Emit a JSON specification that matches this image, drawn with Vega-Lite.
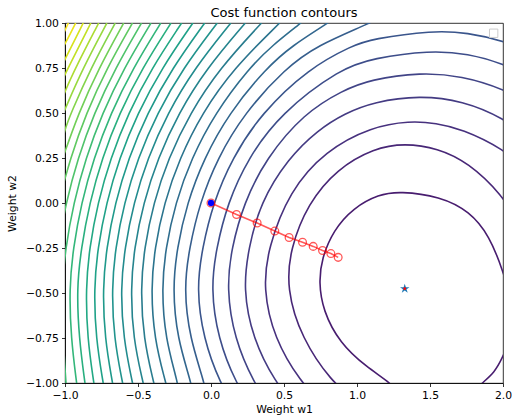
{
  "$schema": "https://vega.github.io/schema/vega-lite/v6.json",
  "width": 438,
  "height": 360,
  "autosize": {"type": "none"},
  "padding": {"left": 65, "top": 23, "right": 12, "bottom": 34},
  "title": {"text": "Cost function contours", "fontSize": 13, "font": "DejaVu Sans", "fontWeight": "normal", "color": "black", "offset": -3},
  "config": {
    "view": {"stroke": "black", "strokeWidth": 0.8},
    "axis": {"grid": false, "domainColor": "black", "domainWidth": 0.8, "tickColor": "black", "tickWidth": 0.8, "tickSize": 3.5, "labelColor": "black", "titleColor": "black", "labelFont": "DejaVu Sans", "titleFont": "DejaVu Sans", "labelFontSize": 10.8, "titleFontSize": 10.8, "titleFontWeight": "normal", "labelFlush": false, "labelOverlap": false}
  },
  "datasets": {
    "contours": [
      {"k":1,"s":1,"w1":2.06,"w2":-0.541},{"k":1,"s":1,"w1":1.998,"w2":-0.374},{"k":1,"s":1,"w1":1.909,"w2":-0.185},{"k":1,"s":1,"w1":1.772,"w2":-0.046},{"k":1,"s":1,"w1":1.567,"w2":0.037},{"k":1,"s":1,"w1":1.293,"w2":0.065},{"k":1,"s":1,"w1":1.149,"w2":0.048},{"k":1,"s":1,"w1":0.975,"w2":-0.027},{"k":1,"s":1,"w1":0.839,"w2":-0.151},{"k":1,"s":1,"w1":0.758,"w2":-0.309},{"k":1,"s":1,"w1":0.739,"w2":-0.441},{"k":1,"s":1,"w1":0.766,"w2":-0.596},{"k":1,"s":1,"w1":0.882,"w2":-0.779},{"k":1,"s":1,"w1":1.067,"w2":-0.913},{"k":1,"s":1,"w1":1.236,"w2":-1.002},{"k":1,"s":1,"w1":1.293,"w2":-1.068},
      {"k":1,"s":0,"w1":2.046,"w2":-0.763},{"k":1,"s":0,"w1":1.998,"w2":-0.857},{"k":1,"s":0,"w1":1.943,"w2":-0.941},{"k":1,"s":0,"w1":1.854,"w2":-1.002},{"k":1,"s":0,"w1":1.772,"w2":-1.068},
      {"k":2,"s":2,"w1":2.114,"w2":-0.124},{"k":2,"s":2,"w1":1.998,"w2":0.043},{"k":2,"s":2,"w1":1.761,"w2":0.226},{"k":2,"s":2,"w1":1.552,"w2":0.305},{"k":2,"s":2,"w1":1.327,"w2":0.332},{"k":2,"s":2,"w1":1.117,"w2":0.305},{"k":2,"s":2,"w1":0.862,"w2":0.189},{"k":2,"s":2,"w1":0.663,"w2":-0.004},{"k":2,"s":2,"w1":0.543,"w2":-0.253},{"k":2,"s":2,"w1":0.517,"w2":-0.474},{"k":2,"s":2,"w1":0.619,"w2":-0.752},{"k":2,"s":2,"w1":0.836,"w2":-1.002},{"k":2,"s":2,"w1":0.947,"w2":-1.061},
      {"k":3,"s":3,"w1":2.219,"w2":0.153},{"k":3,"s":3,"w1":1.998,"w2":0.304},{"k":3,"s":3,"w1":1.718,"w2":0.411},{"k":3,"s":3,"w1":1.542,"w2":0.444},{"k":3,"s":3,"w1":1.361,"w2":0.456},{"k":3,"s":3,"w1":1.101,"w2":0.424},{"k":3,"s":3,"w1":0.784,"w2":0.291},{"k":3,"s":3,"w1":0.537,"w2":0.066},{"k":3,"s":3,"w1":0.39,"w2":-0.252},{"k":3,"s":3,"w1":0.357,"w2":-0.474},{"k":3,"s":3,"w1":0.431,"w2":-0.752},{"k":3,"s":3,"w1":0.62,"w2":-1.002},{"k":3,"s":3,"w1":0.742,"w2":-1.092},
      {"k":4,"s":4,"w1":2.244,"w2":0.327},{"k":4,"s":4,"w1":1.998,"w2":0.476},{"k":4,"s":4,"w1":1.724,"w2":0.567},{"k":4,"s":4,"w1":1.43,"w2":0.598},{"k":4,"s":4,"w1":1.116,"w2":0.562},{"k":4,"s":4,"w1":0.915,"w2":0.498},{"k":4,"s":4,"w1":0.734,"w2":0.407},{"k":4,"s":4,"w1":0.528,"w2":0.248},{"k":4,"s":4,"w1":0.337,"w2":0.0},{"k":4,"s":4,"w1":0.257,"w2":-0.252},{"k":4,"s":4,"w1":0.22,"w2":-0.474},{"k":4,"s":4,"w1":0.284,"w2":-0.752},{"k":4,"s":4,"w1":0.444,"w2":-1.002},{"k":4,"s":4,"w1":0.574,"w2":-1.12},
      {"k":5,"s":5,"w1":2.285,"w2":0.512},{"k":5,"s":5,"w1":1.998,"w2":0.637},{"k":5,"s":5,"w1":1.719,"w2":0.705},{"k":5,"s":5,"w1":1.437,"w2":0.726},{"k":5,"s":5,"w1":1.092,"w2":0.686},{"k":5,"s":5,"w1":0.902,"w2":0.626},{"k":5,"s":5,"w1":0.637,"w2":0.498},{"k":5,"s":5,"w1":0.377,"w2":0.248},{"k":5,"s":5,"w1":0.225,"w2":0.0},{"k":5,"s":5,"w1":0.14,"w2":-0.252},{"k":5,"s":5,"w1":0.107,"w2":-0.474},{"k":5,"s":5,"w1":0.159,"w2":-0.752},{"k":5,"s":5,"w1":0.294,"w2":-1.002},{"k":5,"s":5,"w1":0.417,"w2":-1.141},
      {"k":6,"s":6,"w1":2.26,"w2":0.673},{"k":6,"s":6,"w1":1.998,"w2":0.776},{"k":6,"s":6,"w1":1.763,"w2":0.829},{"k":6,"s":6,"w1":1.498,"w2":0.848},{"k":6,"s":6,"w1":1.11,"w2":0.804},{"k":6,"s":6,"w1":0.889,"w2":0.748},{"k":6,"s":6,"w1":0.476,"w2":0.498},{"k":6,"s":6,"w1":0.253,"w2":0.248},{"k":6,"s":6,"w1":0.114,"w2":0.0},{"k":6,"s":6,"w1":0.036,"w2":-0.252},{"k":6,"s":6,"w1":-0.001,"w2":-0.474},{"k":6,"s":6,"w1":0.047,"w2":-0.752},{"k":6,"s":6,"w1":0.17,"w2":-1.002},{"k":6,"s":6,"w1":0.298,"w2":-1.157},
      {"k":7,"s":7,"w1":2.33,"w2":0.794},{"k":7,"s":7,"w1":1.998,"w2":0.904},{"k":7,"s":7,"w1":1.759,"w2":0.946},{"k":7,"s":7,"w1":1.519,"w2":0.959},{"k":7,"s":7,"w1":1.1,"w2":0.911},{"k":7,"s":7,"w1":0.971,"w2":0.876},{"k":7,"s":7,"w1":0.669,"w2":0.748},{"k":7,"s":7,"w1":0.344,"w2":0.498},{"k":7,"s":7,"w1":0.144,"w2":0.248},{"k":7,"s":7,"w1":0.015,"w2":0.0},{"k":7,"s":7,"w1":-0.06,"w2":-0.252},{"k":7,"s":7,"w1":-0.099,"w2":-0.474},{"k":7,"s":7,"w1":-0.053,"w2":-0.752},{"k":7,"s":7,"w1":0.061,"w2":-1.002},{"k":7,"s":7,"w1":0.193,"w2":-1.177},
      {"k":8,"s":8,"w1":1.259,"w2":1.07},{"k":8,"s":8,"w1":1.088,"w2":0.998},{"k":8,"s":8,"w1":0.728,"w2":0.876},{"k":8,"s":8,"w1":0.509,"w2":0.748},{"k":8,"s":8,"w1":0.227,"w2":0.498},{"k":8,"s":8,"w1":0.044,"w2":0.248},{"k":8,"s":8,"w1":-0.077,"w2":0.0},{"k":8,"s":8,"w1":-0.149,"w2":-0.252},{"k":8,"s":8,"w1":-0.186,"w2":-0.474},{"k":8,"s":8,"w1":-0.146,"w2":-0.752},{"k":8,"s":8,"w1":-0.042,"w2":-1.002},{"k":8,"s":8,"w1":-0.028,"w2":-1.096},
      {"k":9,"s":9,"w1":0.917,"w2":1.07},{"k":9,"s":9,"w1":0.8,"w2":0.998},{"k":9,"s":9,"w1":0.558,"w2":0.876},{"k":9,"s":9,"w1":0.376,"w2":0.748},{"k":9,"s":9,"w1":0.123,"w2":0.498},{"k":9,"s":9,"w1":-0.048,"w2":0.248},{"k":9,"s":9,"w1":-0.164,"w2":0.0},{"k":9,"s":9,"w1":-0.233,"w2":-0.252},{"k":9,"s":9,"w1":-0.263,"w2":-0.474},{"k":9,"s":9,"w1":-0.232,"w2":-0.752},{"k":9,"s":9,"w1":-0.133,"w2":-1.002},{"k":9,"s":9,"w1":-0.117,"w2":-1.096},
      {"k":10,"s":10,"w1":0.711,"w2":1.07},{"k":10,"s":10,"w1":0.615,"w2":0.998},{"k":10,"s":10,"w1":0.42,"w2":0.876},{"k":10,"s":10,"w1":0.259,"w2":0.748},{"k":10,"s":10,"w1":0.027,"w2":0.498},{"k":10,"s":10,"w1":-0.134,"w2":0.248},{"k":10,"s":10,"w1":-0.244,"w2":0.0},{"k":10,"s":10,"w1":-0.311,"w2":-0.252},{"k":10,"s":10,"w1":-0.338,"w2":-0.474},{"k":10,"s":10,"w1":-0.314,"w2":-0.752},{"k":10,"s":10,"w1":-0.225,"w2":-1.002},{"k":10,"s":10,"w1":-0.213,"w2":-1.096},
      {"k":11,"s":11,"w1":0.47,"w2":1.0},{"k":11,"s":11,"w1":0.155,"w2":0.748},{"k":11,"s":11,"w1":-0.062,"w2":0.498},{"k":11,"s":11,"w1":-0.215,"w2":0.248},{"k":11,"s":11,"w1":-0.321,"w2":0.0},{"k":11,"s":11,"w1":-0.386,"w2":-0.252},{"k":11,"s":11,"w1":-0.411,"w2":-0.474},{"k":11,"s":11,"w1":-0.39,"w2":-0.752},{"k":11,"s":11,"w1":-0.309,"w2":-1.002},
      {"k":12,"s":12,"w1":0.346,"w2":1.0},{"k":12,"s":12,"w1":0.059,"w2":0.748},{"k":12,"s":12,"w1":-0.144,"w2":0.498},{"k":12,"s":12,"w1":-0.292,"w2":0.248},{"k":12,"s":12,"w1":-0.394,"w2":0.0},{"k":12,"s":12,"w1":-0.457,"w2":-0.252},{"k":12,"s":12,"w1":-0.482,"w2":-0.474},{"k":12,"s":12,"w1":-0.463,"w2":-0.752},{"k":12,"s":12,"w1":-0.391,"w2":-1.002},
      {"k":13,"s":13,"w1":0.235,"w2":1.0},{"k":13,"s":13,"w1":-0.03,"w2":0.748},{"k":13,"s":13,"w1":-0.223,"w2":0.498},{"k":13,"s":13,"w1":-0.364,"w2":0.248},{"k":13,"s":13,"w1":-0.463,"w2":0.0},{"k":13,"s":13,"w1":-0.526,"w2":-0.252},{"k":13,"s":13,"w1":-0.55,"w2":-0.474},{"k":13,"s":13,"w1":-0.534,"w2":-0.752},{"k":13,"s":13,"w1":-0.464,"w2":-1.002},
      {"k":14,"s":14,"w1":0.136,"w2":1.0},{"k":14,"s":14,"w1":-0.113,"w2":0.748},{"k":14,"s":14,"w1":-0.298,"w2":0.498},{"k":14,"s":14,"w1":-0.434,"w2":0.248},{"k":14,"s":14,"w1":-0.53,"w2":0.0},{"k":14,"s":14,"w1":-0.591,"w2":-0.252},{"k":14,"s":14,"w1":-0.619,"w2":-0.474},{"k":14,"s":14,"w1":-0.601,"w2":-0.752},{"k":14,"s":14,"w1":-0.537,"w2":-1.002},
      {"k":15,"s":15,"w1":0.043,"w2":1.0},{"k":15,"s":15,"w1":-0.192,"w2":0.748},{"k":15,"s":15,"w1":-0.369,"w2":0.498},{"k":15,"s":15,"w1":-0.501,"w2":0.248},{"k":15,"s":15,"w1":-0.595,"w2":0.0},{"k":15,"s":15,"w1":-0.655,"w2":-0.252},{"k":15,"s":15,"w1":-0.68,"w2":-0.474},{"k":15,"s":15,"w1":-0.665,"w2":-0.752},{"k":15,"s":15,"w1":-0.605,"w2":-1.002},
      {"k":16,"s":16,"w1":-0.043,"w2":1.0},{"k":16,"s":16,"w1":-0.266,"w2":0.748},{"k":16,"s":16,"w1":-0.437,"w2":0.498},{"k":16,"s":16,"w1":-0.565,"w2":0.248},{"k":16,"s":16,"w1":-0.657,"w2":0.0},{"k":16,"s":16,"w1":-0.716,"w2":-0.252},{"k":16,"s":16,"w1":-0.742,"w2":-0.474},{"k":16,"s":16,"w1":-0.728,"w2":-0.752},{"k":16,"s":16,"w1":-0.674,"w2":-1.002},
      {"k":17,"s":17,"w1":-0.124,"w2":1.0},{"k":17,"s":17,"w1":-0.338,"w2":0.748},{"k":17,"s":17,"w1":-0.503,"w2":0.498},{"k":17,"s":17,"w1":-0.628,"w2":0.248},{"k":17,"s":17,"w1":-0.717,"w2":0.0},{"k":17,"s":17,"w1":-0.776,"w2":-0.252},{"k":17,"s":17,"w1":-0.802,"w2":-0.474},{"k":17,"s":17,"w1":-0.789,"w2":-0.752},{"k":17,"s":17,"w1":-0.738,"w2":-1.002},
      {"k":18,"s":18,"w1":-0.201,"w2":1.0},{"k":18,"s":18,"w1":-0.407,"w2":0.748},{"k":18,"s":18,"w1":-0.567,"w2":0.498},{"k":18,"s":18,"w1":-0.688,"w2":0.248},{"k":18,"s":18,"w1":-0.776,"w2":0.0},{"k":18,"s":18,"w1":-0.833,"w2":-0.252},{"k":18,"s":18,"w1":-0.858,"w2":-0.474},{"k":18,"s":18,"w1":-0.847,"w2":-0.752},{"k":18,"s":18,"w1":-0.802,"w2":-1.002},
      {"k":19,"s":19,"w1":-0.274,"w2":1.0},{"k":19,"s":19,"w1":-0.472,"w2":0.748},{"k":19,"s":19,"w1":-0.628,"w2":0.498},{"k":19,"s":19,"w1":-0.746,"w2":0.248},{"k":19,"s":19,"w1":-0.832,"w2":0.0},{"k":19,"s":19,"w1":-0.889,"w2":-0.252},{"k":19,"s":19,"w1":-0.92,"w2":-0.474},{"k":19,"s":19,"w1":-0.904,"w2":-0.752},{"k":19,"s":19,"w1":-0.863,"w2":-1.002},
      {"k":20,"s":20,"w1":-0.344,"w2":1.0},{"k":20,"s":20,"w1":-0.535,"w2":0.748},{"k":20,"s":20,"w1":-0.687,"w2":0.498},{"k":20,"s":20,"w1":-0.803,"w2":0.248},{"k":20,"s":20,"w1":-0.888,"w2":0.0},{"k":20,"s":20,"w1":-0.944,"w2":-0.252},{"k":20,"s":20,"w1":-0.971,"w2":-0.474},{"k":20,"s":20,"w1":-0.959,"w2":-0.752},{"k":20,"s":20,"w1":-0.92,"w2":-1.002},
      {"k":21,"s":21,"w1":-0.411,"w2":1.0},{"k":21,"s":21,"w1":-0.597,"w2":0.748},{"k":21,"s":21,"w1":-0.745,"w2":0.498},{"k":21,"s":21,"w1":-0.858,"w2":0.248},{"k":21,"s":21,"w1":-0.941,"w2":0.0},{"k":21,"s":21,"w1":-0.997,"w2":-0.252},{"k":21,"s":21,"w1":-1.021,"w2":-0.474},{"k":21,"s":21,"w1":-1.014,"w2":-0.752},{"k":21,"s":21,"w1":-0.993,"w2":-1.002},
      {"k":22,"s":22,"w1":-0.476,"w2":1.0},{"k":22,"s":22,"w1":-0.656,"w2":0.748},{"k":22,"s":22,"w1":-0.801,"w2":0.498},{"k":22,"s":22,"w1":-0.912,"w2":0.248},{"k":22,"s":22,"w1":-0.994,"w2":0.0},{"k":22,"s":22,"w1":-1.049,"w2":-0.252},
      {"k":23,"s":23,"w1":-0.538,"w2":1.0},{"k":23,"s":23,"w1":-0.714,"w2":0.748},{"k":23,"s":23,"w1":-0.855,"w2":0.498},{"k":23,"s":23,"w1":-0.964,"w2":0.248},{"k":23,"s":23,"w1":-1.045,"w2":0.0},
      {"k":24,"s":24,"w1":-0.598,"w2":1.0},{"k":24,"s":24,"w1":-0.769,"w2":0.748},{"k":24,"s":24,"w1":-0.908,"w2":0.498},{"k":24,"s":24,"w1":-1.016,"w2":0.248},
      {"k":25,"s":25,"w1":-0.656,"w2":1.0},{"k":25,"s":25,"w1":-0.824,"w2":0.748},{"k":25,"s":25,"w1":-0.96,"w2":0.498},{"k":25,"s":25,"w1":-1.0,"w2":0.412},{"k":25,"s":25,"w1":-1.034,"w2":0.293},
      {"k":26,"s":26,"w1":-0.713,"w2":1.0},{"k":26,"s":26,"w1":-0.878,"w2":0.748},{"k":26,"s":26,"w1":-1.0,"w2":0.521},{"k":26,"s":26,"w1":-1.011,"w2":0.498},
      {"k":27,"s":27,"w1":-0.769,"w2":1.0},{"k":27,"s":27,"w1":-0.93,"w2":0.748},{"k":27,"s":27,"w1":-1.0,"w2":0.621},{"k":27,"s":27,"w1":-1.034,"w2":0.543},
      {"k":28,"s":28,"w1":-0.823,"w2":1.0},{"k":28,"s":28,"w1":-0.98,"w2":0.748},{"k":28,"s":28,"w1":-1.0,"w2":0.713},{"k":28,"s":28,"w1":-1.034,"w2":0.654},
      {"k":29,"s":29,"w1":-0.875,"w2":1.0},{"k":29,"s":29,"w1":-1.0,"w2":0.799},{"k":29,"s":29,"w1":-1.029,"w2":0.748},
      {"k":30,"s":30,"w1":-0.927,"w2":1.0},{"k":30,"s":30,"w1":-1.0,"w2":0.881},{"k":30,"s":30,"w1":-1.048,"w2":0.821},
      {"k":31,"s":31,"w1":-0.977,"w2":1.0},{"k":31,"s":31,"w1":-1.0,"w2":0.958},{"k":31,"s":31,"w1":-1.034,"w2":0.904}
    ],
    "gd": [
      {"w1":0.0,"w2":0.0},{"w1":0.175,"w2":-0.064},{"w1":0.316,"w2":-0.111},{"w1":0.437,"w2":-0.156},{"w1":0.535,"w2":-0.192},{"w1":0.627,"w2":-0.218},{"w1":0.7,"w2":-0.241},{"w1":0.764,"w2":-0.264},{"w1":0.821,"w2":-0.281},{"w1":0.871,"w2":-0.302}
    ],
    "start": [{"w1":0.0,"w2":0.0}],
    "star": [{"w1":1.327,"w2":-0.476}],
    "box": [{"w1":1.936,"w2":0.943}]
  },
  "encoding": {
    "x": {"field": "w1", "type": "quantitative", "scale": {"domain": [-1, 2], "nice": false, "zero": false}, "axis": {"values": [-1, -0.5, 0, 0.5, 1, 1.5, 2], "format": ".1f", "title": "Weight w1", "labelPadding": 3, "titlePadding": 3}},
    "y": {"field": "w2", "type": "quantitative", "scale": {"domain": [-1, 1], "nice": false, "zero": false}, "axis": {"values": [-1, -0.75, -0.5, -0.25, 0, 0.25, 0.5, 0.75, 1], "format": ".2f", "title": "Weight w2", "labelPadding": 3, "titlePadding": 8}}
  },
  "layer": [
    {
      "data": {"name": "contours"},
      "mark": {"type": "line", "clip": true, "strokeWidth": 1.6, "interpolate": "basis"},
      "encoding": {
        "color": {"field": "k", "type": "quantitative", "scale": {"scheme": "viridis", "domain": [-1.5, 31]}, "legend": null},
        "detail": {"field": "s", "type": "nominal"},
        "order": {"value": null}
      }
    },
    {
      "data": {"name": "gd"},
      "mark": {"type": "line", "color": "red", "strokeWidth": 1.6, "opacity": 0.65},
      "encoding": {"order": {"value": null}}
    },
    {
      "data": {"name": "gd"},
      "mark": {"type": "point", "shape": "circle", "filled": false, "color": "red", "size": 60, "strokeWidth": 1.3, "opacity": 0.65}
    },
    {
      "data": {"name": "start"},
      "mark": {"type": "point", "shape": "circle", "filled": true, "color": "blue", "size": 40, "opacity": 1}
    },
    {
      "data": {"name": "star"},
      "mark": {"type": "point", "shape": "M0,-1L0.2245,-0.309L0.951,-0.309L0.363,0.118L0.588,0.809L0,0.382L-0.588,0.809L-0.363,0.118L-0.951,-0.309L-0.2245,-0.309Z", "filled": true, "color": "#1f77b4", "size": 100, "opacity": 1}
    },
    {
      "data": {"name": "star"},
      "mark": {"type": "point", "shape": "circle", "filled": true, "color": "red", "size": 7, "opacity": 1}
    },
    {
      "data": {"name": "box"},
      "mark": {"type": "point", "shape": "square", "filled": true, "fill": "white", "stroke": "#cccccc", "strokeWidth": 1, "size": 70, "opacity": 1}
    }
  ]
}
